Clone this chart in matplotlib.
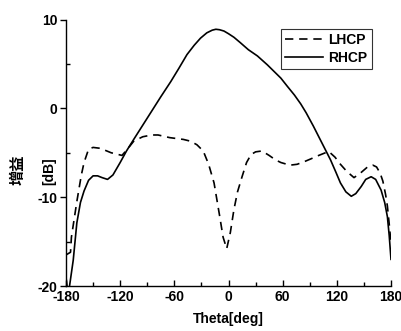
import matplotlib
matplotlib.use("Agg")
import matplotlib.pyplot as plt
from matplotlib.ticker import MultipleLocator

plt.rcParams['font.family'] = ['Liberation Sans', 'DejaVu Sans']

rhcp_theta = [-180, -178.5, -176.5, -172, -168, -164, -160, -155, -150, -145, -140, -134,
              -128, -120, -113, -105, -95, -85, -75, -64, -55, -46, -38, -31, -24, -18,
              -14, -10, -5, 0, 6, 13, 22, 32, 43, 50, 58, 65, 73, 80, 86, 94, 103, 113,
              119, 124, 130, 136, 141, 147, 152, 158, 163, 169, 173, 176, 178, 180]
rhcp_val = [-19.0, -20.3, -20.3, -17.1, -12.9, -10.6, -9.3, -8.1, -7.6, -7.6, -7.8, -8.0,
            -7.5, -6.1, -4.8, -3.5, -1.9, -0.3, 1.3, 3.0, 4.5, 6.05, 7.1, 7.9, 8.5, 8.8,
            8.9, 8.85, 8.7, 8.4, 8.0, 7.4, 6.6, 5.9, 4.9, 4.2, 3.4, 2.5, 1.5, 0.5, -0.5,
            -2.0, -3.8, -5.8, -7.2, -8.4, -9.4, -9.9, -9.6, -8.8, -8.0, -7.7, -8.0, -9.2,
            -10.6, -12.2, -14.3, -17.0]

lhcp_theta = [-180, -175, -174, -168, -163, -160, -155, -150, -142, -130, -118, -112, -105,
              -95, -85, -78, -65, -50, -42, -35, -28, -22, -16, -10, -6, -2, 2, 6, 10, 15,
              20, 25, 30, 37, 45, 52, 58, 68, 76, 84, 91, 100, 111, 118, 124, 131, 139,
              146, 154, 160, 164, 168, 171, 174, 176, 178, 180]
lhcp_val = [-16.5, -16.2, -14.5, -10.5, -7.5, -6.1, -4.6, -4.4, -4.5, -5.0, -5.3, -4.6, -3.7,
            -3.2, -3.0, -3.0, -3.3, -3.5, -3.7, -4.1, -4.8, -6.3, -8.4, -12.0, -14.5, -15.8,
            -14.0, -11.4, -9.4, -7.7, -6.1, -5.2, -4.9, -4.8, -5.3, -5.8, -6.1, -6.4, -6.3,
            -6.0, -5.7, -5.3, -4.85, -5.5, -6.3, -7.1, -7.8, -7.3, -6.6, -6.4, -6.6, -7.3,
            -8.2, -9.7, -11.0, -13.0, -15.2]

xticks = [-180, -120, -60, 0, 60, 120, 180]
yticks = [-20, -10, 0, 10]

fig = plt.figure(figsize=(4.01, 3.31), dpi=100)
ax = fig.add_axes([66/401, 1-286/331, (391-66)/401, (286-19.5)/331])

ax.plot(lhcp_theta, lhcp_val, color='black', lw=1.2, dashes=(5, 3.5), label='LHCP')
ax.plot(rhcp_theta, rhcp_val, color='black', lw=1.2, label='RHCP')

ax.set_xlim(-180, 180)
ax.set_ylim(-20, 10)
ax.set_xticks(xticks)
ax.set_yticks(yticks)
ax.set_xticklabels([str(t) for t in xticks])
ax.set_yticklabels([str(t) for t in yticks])
ax.xaxis.set_minor_locator(MultipleLocator(30))
ax.yaxis.set_minor_locator(MultipleLocator(5))

for s in ['top', 'right']:
    ax.spines[s].set_visible(False)
for s in ['left', 'bottom']:
    ax.spines[s].set_linewidth(1.0)

ax.tick_params(axis='y', which='major', direction='out', length=4, width=1, pad=2,
               labelsize=10)
ax.tick_params(axis='y', which='minor', direction='in', length=3, width=1)
ax.tick_params(axis='x', which='major', direction='in', length=4, width=1, pad=3,
               labelsize=10)
ax.tick_params(axis='x', which='minor', direction='in', length=3, width=1)
for lab in ax.get_xticklabels() + ax.get_yticklabels():
    lab.set_fontweight('bold')

ax.set_xlabel('Theta[deg]', fontsize=10, fontweight='bold', labelpad=6)

fig.text(18/401, 1-170/331, '增益', rotation=90, ha='center', va='center',
         fontsize=11, fontweight='bold', family=['Noto Sans CJK SC', 'DejaVu Sans'])
fig.text(49/401, 1-171/331, '[dB]', rotation=90, ha='center', va='center',
         fontsize=10, fontweight='bold')

leg = ax.legend(loc='upper right', bbox_to_anchor=(0.9406, 0.9644), borderaxespad=0,
                frameon=True, fancybox=False, fontsize=10, handlelength=2.7,
                handletextpad=0.4, borderpad=0.3, labelspacing=0.3)
leg.get_frame().set_edgecolor('black')
leg.get_frame().set_linewidth(0.8)
for t in leg.get_texts():
    t.set_fontweight('bold')

fig.savefig('out.png', dpi=100)
